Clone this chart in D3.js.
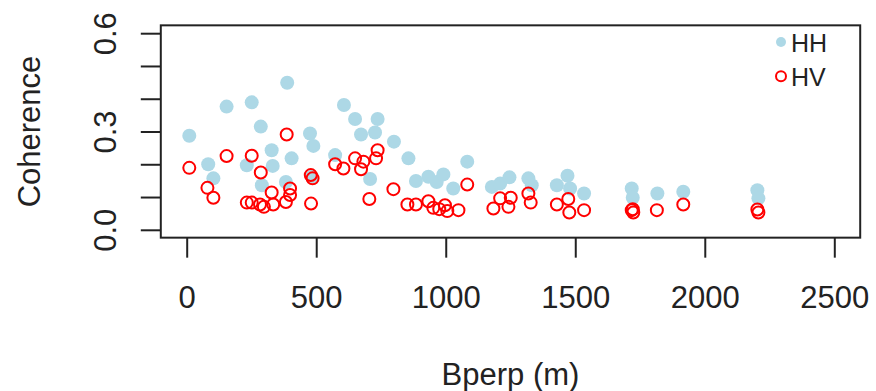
<!DOCTYPE html>
<html>
<head>
<meta charset="utf-8">
<script src="https://cdn.jsdelivr.net/npm/d3@7"></script>
<style>
  html, body { margin: 0; padding: 0; background: #fff; }
  svg { display: block; font-family: "Liberation Sans", Arial, Helvetica, sans-serif; }
</style>
</head>
<body>
<svg id="chart" width="876" height="391"></svg>
<script>
// HH coherence against perpendicular baseline
const hhBperp = [10, 83, 103, 154, 232, 251, 286, 290, 328, 332, 383, 388, 405, 476, 483, 489, 573, 607, 650, 673,
  708, 727, 737, 800, 856, 885, 933, 965, 991, 1029, 1083, 1178, 1210, 1246, 1319, 1332, 1429, 1470, 1480, 1534,
  1718, 1722, 1817, 1917, 2203, 2207];
const hhCoh = [0.287, 0.200, 0.157, 0.376, 0.197, 0.389, 0.315, 0.136, 0.243, 0.195, 0.146, 0.449, 0.218, 0.294, 0.162, 0.256, 0.228, 0.381, 0.338, 0.291,
  0.155, 0.297, 0.338, 0.269, 0.218, 0.149, 0.162, 0.146, 0.169, 0.126, 0.208, 0.131, 0.141, 0.160, 0.157, 0.136, 0.136, 0.165, 0.126, 0.111,
  0.126, 0.098, 0.111, 0.116, 0.121, 0.096];

// HV coherence
const hvBperp = [10, 80, 103, 154, 232, 251, 251, 283, 286, 298, 328, 334, 383, 386, 399, 399, 479, 480, 486, 573,
  605, 650, 673, 682, 705, 731, 737, 798, 852, 885, 933, 952, 975, 997, 1006, 1049, 1083, 1184, 1210, 1242,
  1251, 1319, 1328, 1429, 1473, 1477, 1534, 1718, 1722, 1724, 1815, 1917, 2203, 2207];
const hvCoh = [0.189, 0.128, 0.098, 0.225, 0.083, 0.226, 0.083, 0.077, 0.175, 0.070, 0.114, 0.077, 0.085, 0.291, 0.126, 0.106, 0.167, 0.080, 0.157, 0.200,
  0.187, 0.218, 0.185, 0.208, 0.094, 0.218, 0.243, 0.124, 0.077, 0.077, 0.087, 0.067, 0.063, 0.075, 0.057, 0.060, 0.138, 0.065, 0.096, 0.070,
  0.098, 0.111, 0.083, 0.077, 0.094, 0.053, 0.060, 0.060, 0.063, 0.053, 0.060, 0.077, 0.062, 0.053];

const xTicks = [0, 500, 1000, 1500, 2000, 2500];
const yTicks = [0, 0.1, 0.2, 0.3, 0.4, 0.5, 0.6];
const yLabelled = [0, 0.3, 0.6];
const legendKeys = ["HH", "HV"];

const INK = "#222";
const FONT = 31;

const svg = d3.select("#chart");

// scales fixed by the tick positions, R-style 4% padding for the frame
const x = d3.scaleLinear().domain([0, 2500]).range([186.7, 834.3]);
const y = d3.scaleLinear().domain([0, 0.6]).range([229.8, 33.2]);
const boxL = x(-100), boxR = x(2600), boxT = y(0.624), boxB = y(-0.024);

// x axis
const gx = svg.append("g")
  .attr("transform", `translate(0,${boxB})`)
  .call(d3.axisBottom(x).tickValues(xTicks).tickSize(20).tickFormat(d3.format("d")));
gx.select(".domain").remove();
gx.selectAll(".tick line").attr("stroke", INK).attr("stroke-width", 2);
gx.selectAll(".tick text")
  .attr("y", 70.6).attr("dy", null)
  .attr("fill", INK).attr("font-size", FONT).attr("font-family", null);

// y axis, labels parallel to the axis
const gy = svg.append("g")
  .attr("transform", `translate(${boxL},0)`)
  .call(d3.axisLeft(y).tickValues(yTicks).tickSize(20)
    .tickFormat(d => yLabelled.some(v => Math.abs(v - d) < 1e-9) ? d3.format(".1f")(d) : ""));
gy.select(".domain").remove();
gy.selectAll(".tick line").attr("stroke", INK).attr("stroke-width", 2);
gy.selectAll(".tick text")
  .attr("x", null).attr("dy", null)
  .attr("text-anchor", "middle")
  .attr("transform", "translate(-44.5,0) rotate(-90)")
  .attr("fill", INK).attr("font-size", FONT).attr("font-family", null);

// points: HH filled, HV open on top
svg.append("g")
  .selectAll("circle")
  .data(d3.zip(hhBperp, hhCoh))
  .join("circle")
  .attr("cx", d => x(d[0]))
  .attr("cy", d => y(d[1]))
  .attr("r", 7)
  .attr("fill", "lightblue");

svg.append("g")
  .selectAll("circle")
  .data(d3.zip(hvBperp, hvCoh))
  .join("circle")
  .attr("cx", d => x(d[0]))
  .attr("cy", d => y(d[1]))
  .attr("r", 6)
  .attr("fill", "none")
  .attr("stroke", "red")
  .attr("stroke-width", 2);

// frame
svg.append("rect")
  .attr("x", boxL).attr("y", boxT)
  .attr("width", boxR - boxL).attr("height", boxB - boxT)
  .attr("fill", "none").attr("stroke", INK).attr("stroke-width", 2);

// axis titles
svg.append("text")
  .attr("x", (boxL + boxR) / 2).attr("y", 385)
  .attr("text-anchor", "middle")
  .attr("font-size", FONT).attr("fill", INK)
  .text("Bperp (m)");

svg.append("text")
  .attr("transform", `translate(39.5,${(boxT + boxB) / 2}) rotate(-90)`)
  .attr("text-anchor", "middle")
  .attr("font-size", FONT).attr("fill", INK)
  .text("Coherence");

// legend, no box
const legend = svg.append("g").attr("transform", "translate(781,0)");
const rows = legend.selectAll("g")
  .data(legendKeys)
  .join("g")
  .attr("transform", (d, i) => `translate(0,${42 + i * 34.3})`);
rows.append("circle")
  .attr("r", 5)
  .attr("fill", d => d === "HH" ? "lightblue" : "none")
  .attr("stroke", d => d === "HH" ? "none" : "red")
  .attr("stroke-width", 2);
rows.append("text")
  .attr("x", 10).attr("y", 9.5)
  .attr("font-size", 25).attr("fill", INK)
  .text(d => d);
</script>
</body>
</html>
